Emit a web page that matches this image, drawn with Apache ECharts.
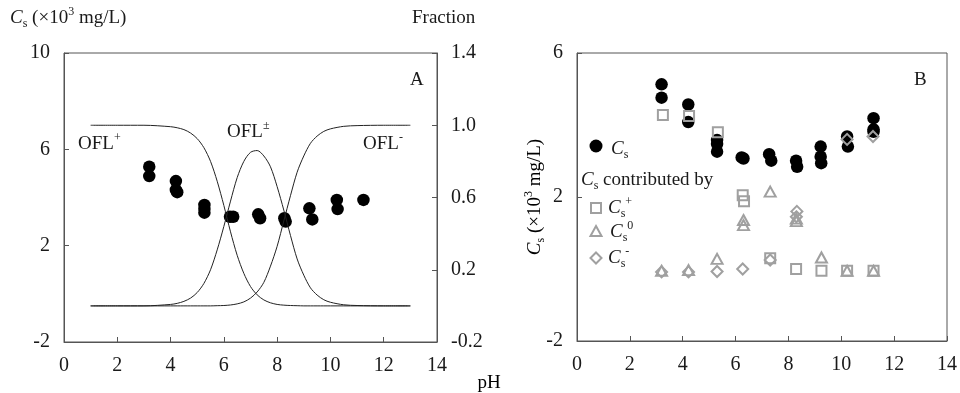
<!DOCTYPE html>
<html><head><meta charset="utf-8">
<script src="https://cdn.jsdelivr.net/npm/echarts@6/dist/echarts.min.js"></script>
<style>html,body{margin:0;padding:0;background:#fff}#c{width:960px;height:393px}</style>
</head><body><div id="c"></div>
<script>
// ---- Panel A: speciation fractions ----
const fracPH      = [1,2,3,4,4.25,4.5,4.75,5,5.25,5.5,5.75,6,6.25,6.5,6.75,7,7.25,7.5,7.75,8,8.25,8.5,8.75,9,9.25,9.5,9.75,10,10.5,11,12,13];
const fracCation  = [1,1,1,0.992,0.986,0.976,0.957,0.926,0.876,0.80,0.69,0.556,0.41,0.28,0.18,0.107,0.061,0.033,0.017,0.008,0.004,0.002,0.001,0,0,0,0,0,0,0,0,0];
const fracZwitter = [0,0,0,0.008,0.014,0.025,0.043,0.074,0.124,0.20,0.31,0.44,0.58,0.71,0.80,0.85,0.86,0.83,0.77,0.66,0.53,0.39,0.26,0.17,0.10,0.06,0.034,0.02,0.006,0.002,0,0];
const fracAnion   = [0,0,0,0,0,0,0,0,0,0,0.001,0.002,0.005,0.011,0.022,0.043,0.077,0.13,0.22,0.33,0.47,0.61,0.74,0.83,0.90,0.94,0.966,0.98,0.994,0.998,1,1];

// ---- Panel A: Cs (x10^3 mg/L) ----
const aPH = [3.2,3.2,4.2,4.2,4.25,5.27,5.27,5.27,6.23,6.35,7.29,7.36,8.27,8.32,9.21,9.32,10.24,10.27,11.24];
const aCs = [5.28,4.89,4.68,4.31,4.22,3.69,3.52,3.37,3.2,3.2,3.3,3.14,3.14,3.0,3.55,3.09,3.9,3.52,3.9];

// ---- Panel B ----
const bPH   = [3.2,3.2,4.21,4.21,5.3,5.3,5.3,6.23,6.3,7.27,7.35,8.29,8.33,9.22,9.22,9.24,10.22,10.25,11.22,11.22,11.22];
const bCs   = [5.13,4.76,4.57,4.08,3.58,3.47,3.26,3.10,3.07,3.19,3.01,3.01,2.84,3.4,3.12,2.94,3.68,3.4,4.19,3.88,3.81];
const posPH = [3.25,4.24,5.33,6.27,6.32,7.31,8.29,9.25,10.22,11.22];
const posCs = [4.28,4.25,3.8,2.05,1.88,0.3,0.0,-0.05,-0.05,-0.05];
const zwiPH = [3.2,4.22,5.3,6.3,6.3,7.31,8.3,8.3,9.25,10.22,11.22];
const zwiCs = [-0.05,-0.03,0.28,1.36,1.22,2.15,1.4,1.33,0.32,-0.05,-0.05];
const negPH = [3.2,4.22,5.3,6.27,7.31,8.32,8.3,10.22,11.2];
const negCs = [-0.08,-0.08,-0.07,0.0,0.25,1.6,1.45,3.6,3.68];

const xTicks = {min:0, max:14, interval:2};
const FONT = 'Liberation Serif';
const TXT = '#1a1a1a';
const AX = '#555';
const GRAY = '#a0a0a0';

const zip = (xs, ys) => xs.map((x,i)=>[x, ys[i]]);

function xAxis(gi){
  return {type:'value', gridIndex:gi, min:xTicks.min, max:xTicks.max, interval:xTicks.interval,
    axisLine:{show:true, onZero:false, lineStyle:{color:AX}},
    axisTick:{show:true, inside:true, length:5, lineStyle:{color:AX}},
    axisLabel:{margin:14, fontFamily:FONT, fontSize:20, color:TXT},
    splitLine:{show:false}};
}
function yAxis(gi, min, max, interval, pos, fmt){
  return {type:'value', gridIndex:gi, min, max, interval, position:pos,
    axisLine:{show:true, onZero:false, lineStyle:{color:AX}},
    axisTick:{show:true, inside:true, length:5, lineStyle:{color:AX}},
    axisLabel:{margin:14, fontFamily:FONT, fontSize:20, color:TXT, formatter:fmt},
    splitLine:{show:false}};
}

const rich = {
  n:{fontFamily:FONT, fontSize:19, color:TXT, lineHeight:24},
  i:{fontFamily:FONT, fontSize:19, fontStyle:'italic', color:TXT, lineHeight:24},
  sub:{fontFamily:FONT, fontSize:12, color:TXT, verticalAlign:'bottom', lineHeight:14},
  sup:{fontFamily:FONT, fontSize:12, color:TXT, verticalAlign:'top', lineHeight:14}
};
function txt(x, y, text, opt){
  return Object.assign({type:'text', x, y, style:{text, rich, fill:TXT, font:'19px '+FONT, align:'left', verticalAlign:'middle'}}, opt||{});
}
const hollow = {color:'rgba(0,0,0,0)', borderColor:GRAY, borderWidth:2, opacity:1};
const solid = {color:'#000', opacity:1};

const option = {
  animation:false,
  grid:[
    {left:64, top:53, width:373, height:289, show:true, borderColor:AX, borderWidth:1},
    {left:577, top:53, width:374, height:288, show:true, borderColor:AX, borderWidth:1}
  ],
  xAxis:[xAxis(0), xAxis(1)],
  yAxis:[
    yAxis(0,-2,10,4,'left'),
    yAxis(0,-0.2,1.4,0.4,'right', v=>v.toFixed(1)),
    yAxis(1,-2,6,4,'left')
  ],
  series:[
    {type:'line', xAxisIndex:0, yAxisIndex:1, data:zip(fracPH,fracCation), smooth:0.3, showSymbol:false, lineStyle:{color:'#222', width:1}},
    {type:'line', xAxisIndex:0, yAxisIndex:1, data:zip(fracPH,fracZwitter), smooth:0.3, showSymbol:false, lineStyle:{color:'#222', width:1}},
    {type:'line', xAxisIndex:0, yAxisIndex:1, data:zip(fracPH,fracAnion), smooth:0.3, showSymbol:false, lineStyle:{color:'#222', width:1}},
    {type:'scatter', xAxisIndex:0, yAxisIndex:0, data:zip(aPH,aCs), symbol:'circle', symbolSize:12.5, itemStyle:solid},
    {type:'scatter', xAxisIndex:1, yAxisIndex:2, data:zip(bPH,bCs), symbol:'circle', symbolSize:12.5, itemStyle:solid},
    {type:'scatter', xAxisIndex:1, yAxisIndex:2, data:zip(posPH,posCs), symbol:'rect', symbolSize:10, itemStyle:hollow},
    {type:'scatter', xAxisIndex:1, yAxisIndex:2, data:zip(zwiPH,zwiCs), symbol:'triangle', symbolSize:[11,10], itemStyle:hollow},
    {type:'scatter', xAxisIndex:1, yAxisIndex:2, data:zip(negPH,negCs), symbol:'path://M0,-1L1,0L0,1L-1,0Z', symbolSize:11, itemStyle:hollow}
  ],
  graphic:[
    txt(10, 18, '{i|C}{sub|s}{n| (×10}{sup|3}{n| mg/L)}'),
    txt(412, 18, '{n|Fraction}'),
    txt(410, 80, '{n|A}'),
    txt(914, 80, '{n|B}'),
    txt(78, 144, '{n|OFL}{sup|+}'),
    txt(227, 132, '{n|OFL}{sup|±}'),
    txt(363, 144, '{n|OFL}{sup|-}'),
    {type:'text', x:489, y:383, style:{text:'{n|pH}', rich, align:'center', verticalAlign:'middle'}},
    {type:'text', x:535, y:197, rotation:Math.PI/2, style:{text:'{i|C}{sub|s}{n| (×10}{sup|3}{n| mg/L)}', rich, align:'center', verticalAlign:'middle'}},
    // legend in panel B
    {type:'circle', shape:{cx:596, cy:146, r:6.5}, style:{fill:'#000'}},
    txt(611, 149, '{i|C}{sub|s}'),
    txt(581, 180, '{i|C}{sub|s}{n| contributed by}'),
    {type:'rect', shape:{x:591, y:203, width:10, height:10}, style:{fill:'none', stroke:GRAY, lineWidth:2}},
    txt(608, 208, '{i|C}{sub|s}{sup|+}'),
    {type:'polygon', shape:{points:[[596,226],[601.5,236],[590.5,236]]}, style:{fill:'none', stroke:GRAY, lineWidth:2}},
    txt(610, 232, '{i|C}{sub|s}{sup|0}'),
    {type:'polygon', shape:{points:[[596,252.5],[601.5,258],[596,263.5],[590.5,258]]}, style:{fill:'none', stroke:GRAY, lineWidth:2}},
    txt(608, 258, '{i|C}{sub|s}{sup|-}')
  ]
};
echarts.init(document.getElementById('c'), null, {renderer:'canvas'}).setOption(option);
</script></body></html>
